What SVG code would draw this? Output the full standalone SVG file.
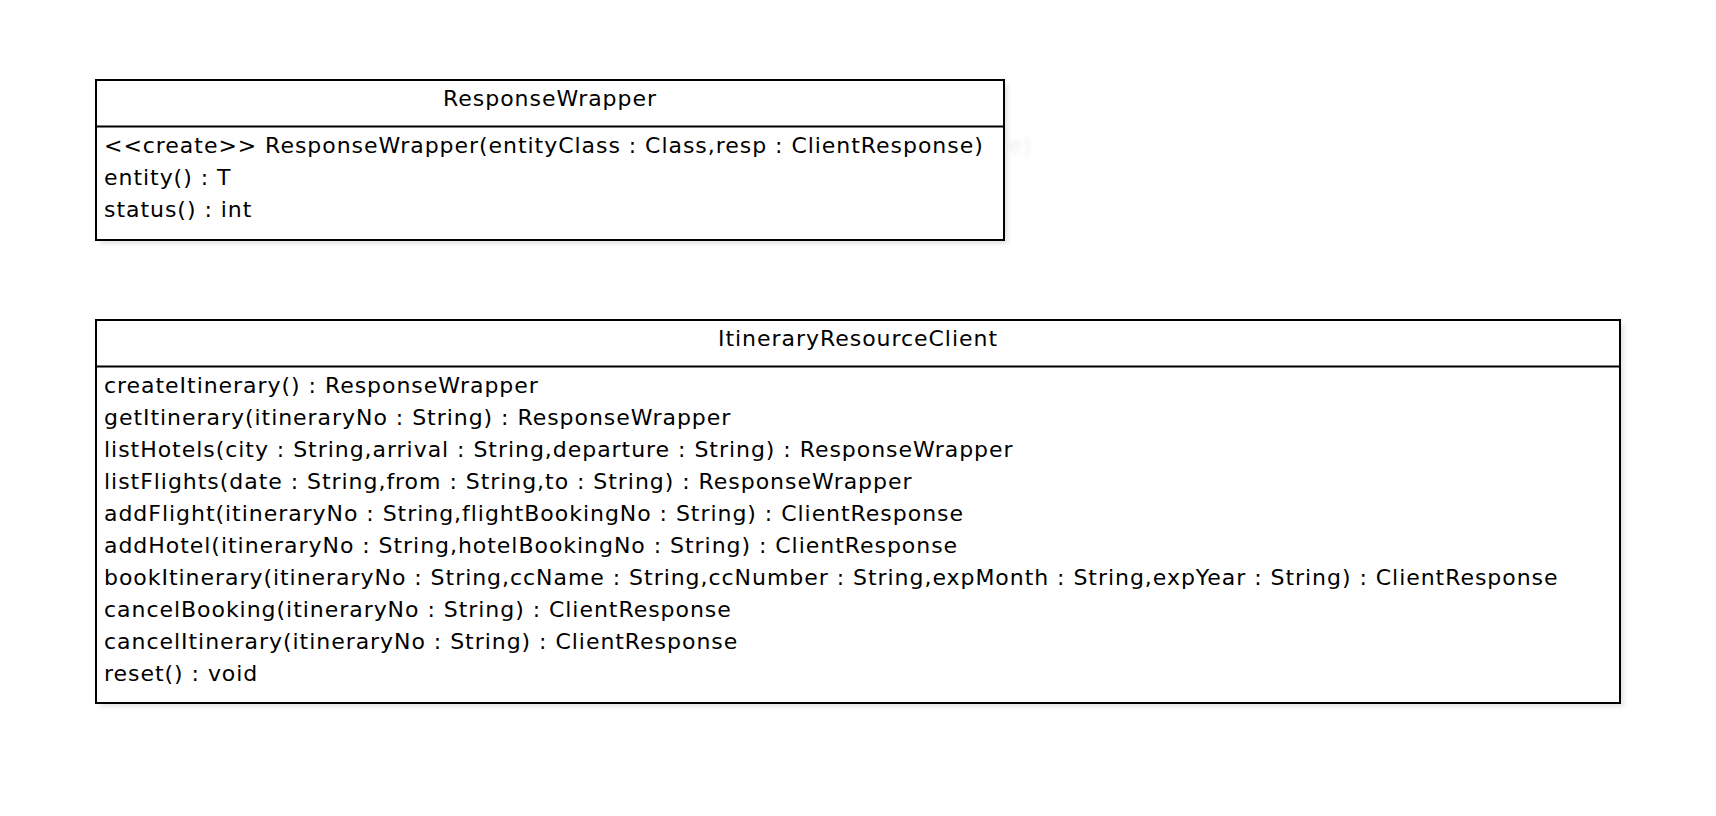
<svg xmlns="http://www.w3.org/2000/svg" width="1716" height="816" viewBox="0 0 1716 816">
<defs>
<filter id="sh" x="-5%" y="-5%" width="110%" height="110%"><feGaussianBlur stdDeviation="2"/></filter>
<style>
.box{fill:#fff;stroke:#000;stroke-width:2}
.shadow{fill:#e6e6e6;filter:url(#sh)}
.div{stroke:#000;stroke-width:2}
text{font-family:"DejaVu Sans","Verdana",sans-serif;font-size:22px;letter-spacing:0.96px;fill:#000}
.title{text-anchor:middle}
.ghost{fill:#ececec;filter:url(#sh)}
</style>
</defs>
<rect width="1716" height="816" fill="#fff"/>
<g id="ResponseWrapper">
<rect class="shadow" x="100" y="84" width="908" height="160"/>
<text class="ghost" x="1008" y="153">e)</text>
<rect class="box" x="96" y="80" width="908" height="160"/>
<line class="div" x1="96" y1="126.5" x2="1004" y2="126.5"/>
<text class="title" x="550" y="106">ResponseWrapper</text>
<text x="104" y="153">&lt;&lt;create&gt;&gt; ResponseWrapper(entityClass : Class,resp : ClientResponse)</text>
<text x="104" y="185">entity() : T</text>
<text x="104" y="217">status() : int</text>
</g>
<g id="ItineraryResourceClient">
<rect class="shadow" x="100" y="324" width="1524" height="383"/>
<rect class="box" x="96" y="320" width="1524" height="383"/>
<line class="div" x1="96" y1="366.5" x2="1620" y2="366.5"/>
<text class="title" x="858" y="346">ItineraryResourceClient</text>
<text x="104" y="393">createItinerary() : ResponseWrapper</text>
<text x="104" y="425">getItinerary(itineraryNo : String) : ResponseWrapper</text>
<text x="104" y="457">listHotels(city : String,arrival : String,departure : String) : ResponseWrapper</text>
<text x="104" y="489">listFlights(date : String,from : String,to : String) : ResponseWrapper</text>
<text x="104" y="521">addFlight(itineraryNo : String,flightBookingNo : String) : ClientResponse</text>
<text x="104" y="553">addHotel(itineraryNo : String,hotelBookingNo : String) : ClientResponse</text>
<text x="104" y="585">bookItinerary(itineraryNo : String,ccName : String,ccNumber : String,expMonth : String,expYear : String) : ClientResponse</text>
<text x="104" y="617">cancelBooking(itineraryNo : String) : ClientResponse</text>
<text x="104" y="649">cancelItinerary(itineraryNo : String) : ClientResponse</text>
<text x="104" y="681">reset() : void</text>
</g>
<g id="connectors"/>
</svg>
